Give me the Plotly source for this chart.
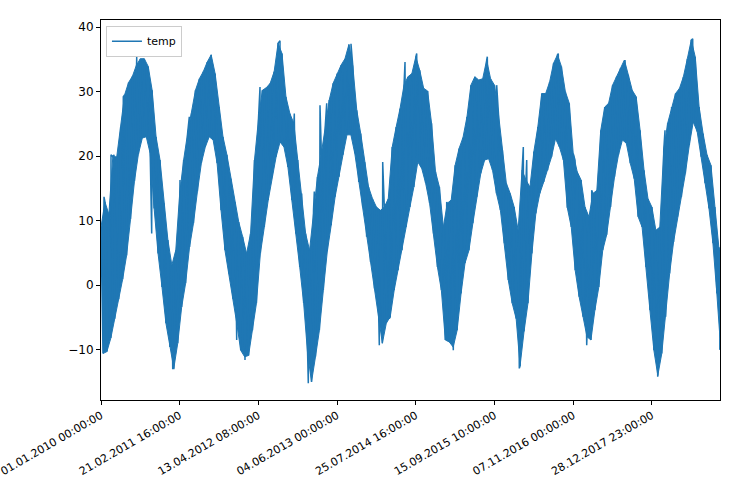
import plotly.graph_objects as go

# ---- data read from the reference: hourly index sampled every 500 h,
#      upper / lower edge of the temperature trace (deg C) ----
step_hours = 500
last_index = 78650
upper = [9.0, 12.9, 11.0, 19.9, 19.9, 24.5, 29.5, 31.4, 32.4, 34.1,
         35.1, 35.1, 33.9, 30.2, 23.0, 19.4, 12.7, 7.0, 3.1, 5.4,
         14.2, 19.4, 23.5, 26.6, 30.2, 32.0, 33.1, 34.6, 35.7, 32.8,
         27.6, 23.0, 20.2, 16.5, 12.9, 9.8, 7.5, 4.9, 8.0, 19.4,
         25.6, 30.2, 30.6, 31.3, 33.1, 37.5, 35.9, 29.2, 26.6, 25.1,
         19.4, 14.2, 8.0, 5.4, 11.6, 16.8, 20.4, 24.8, 28.7, 31.3,
         32.8, 34.1, 35.1, 37.3, 33.9, 27.1, 23.5, 19.1, 15.2, 13.4,
         12.1, 11.6, 12.1, 13.4, 21.4, 24.5, 27.4, 31.0, 32.3, 32.8,
         35.4, 33.3, 30.5, 30.1, 25.1, 17.6, 15.2, 9.0, 12.7, 13.2,
         18.6, 21.2, 22.9, 26.1, 31.0, 32.3, 31.8, 32.0, 34.9, 32.0,
         31.0, 26.6, 20.9, 15.8, 14.2, 12.1, 8.5, 17.8, 16.3, 15.2,
         20.7, 24.5, 29.7, 29.7, 31.5, 34.4, 35.7, 33.9, 30.0,
         28.2, 20.4, 17.6, 16.3, 12.1, 10.6, 14.2, 14.7, 24.0, 27.6,
         28.2, 31.0, 32.3, 33.6, 34.9, 32.6, 30.2, 29.2, 24.0, 17.8,
         13.4, 12.1, 8.5, 9.0, 20.9, 25.1, 27.6, 29.7, 30.5, 32.3,
         35.1, 38.0, 35.4, 27.6, 23.5, 20.2, 18.6, 12.1, 5.9, 5.4]
lower = [-10.6, -10.3, -8.2, -5.2, -2.2, 0.9, 4.6, 10.2, 16.1, 20.3,
         22.8, 23.0, 20.4, 11.9, 4.9, -0.3, -5.9, -9.6, -12.9, -9.0,
         -3.4, 0.3, 5.9, 9.6, 14.5, 18.9, 21.4, 23.0, 22.5, 18.9,
         11.6, 5.4, 1.8, -2.1, -5.9, -10.1, -11.1, -10.9, -7.0, -2.8,
         4.9, 9.0, 13.2, 16.8, 19.9, 22.2, 21.4, 18.3, 13.2, 8.0,
         2.8, -2.8, -10.6, -15.0, -11.1, -7.0, -0.8, 5.2, 9.3, 13.7,
         16.8, 20.2, 23.3, 23.3, 20.4, 16.0, 12.1, 7.5, 3.6, -0.5,
         -4.9, -9.0, -5.9, -4.9, -0.8, 2.3, 5.4, 9.0, 12.1, 15.2,
         19.1, 18.1, 15.8, 12.7, 8.0, 2.8, -0.8, -8.5, -8.8, -9.6,
         -7.0, -1.3, 3.4, 5.4, 9.6, 13.7, 17.3, 19.4, 19.6, 17.8,
         14.2, 11.6, 6.5, 0.8, -2.8, -5.2, -12.5, -7.2, -2.8, 4.9,
         11.1, 14.2, 16.0, 17.8, 19.9, 22.7, 21.4, 19.4, 12.0,
         9.0, 2.3, -1.8, -4.9, -8.0, -8.5, -3.9, -0.3, 5.4, 7.8,
         12.1, 16.8, 20.2, 22.5, 22.0, 18.9, 16.5, 10.6, 9.0, 2.8,
         -3.9, -10.1, -14.0, -10.6, -4.9, 1.8, 6.7, 10.6, 13.7, 17.3,
         21.7, 25.3, 23.8, 19.9, 15.8, 11.9, 6.5, -1.3, -8.3, -10.0]

# isolated spikes of the trace (hour index, deg C)
spike_index = [381, 1271, 1652, 2833, 4536, 10038, 11219, 20203, 22744, 24561,
               27102, 27826, 28678, 31765, 35793, 38627, 40113, 43925, 49084, 50278,
               53658, 54090, 58105, 60226, 62348, 66580, 71662, 75182,
               800, 6442, 9110, 17242, 18297, 26340, 35361, 36631, 44763, 53149,
               61713, 70735]
spike_value = [13.7, 20.2, 20.2, 29.2, 35.4, 16.3, 26.1, 30.7, 37.9, 26.6,
               14.5, 27.9, 28.2, 37.4, 19.1, 34.6, 35.9, 12.9, 35.4, 31.0,
               21.4, 19.4, 35.9, 19.4, 14.7, 34.9, 24.0, 38.2,
               -9.3, 8.0, -12.9, -8.5, -11.6, -15.2, -9.3, -5.2, -10.1, -12.9,
               -9.3, -14.2]

tick_positions = [0, 10000, 20000, 30000, 40000, 50000, 60000, 70000]
tick_labels = ["01.01.2010 00:00:00", "21.02.2011 16:00:00", "13.04.2012 08:00:00",
               "04.06.2013 00:00:00", "25.07.2014 16:00:00", "15.09.2015 10:00:00",
               "07.11.2016 00:00:00", "28.12.2017 23:00:00"]
y_ticks = [-10, 0, 10, 20, 30, 40]

# ---- build series (hourly index positions of the samples) ----
n = len(upper)
hi_x = [min(i * step_hours, last_index) for i in range(n - 1)] + [last_index]
lo_x = [min(i * step_hours + step_hours // 2, last_index) for i in range(n - 1)] + [last_index]

pts = []
for i in range(n):
    pts.append((hi_x[i], upper[i]))
    pts.append((lo_x[i], lower[i]))
pts += list(zip(spike_index, spike_value))
pts.sort(key=lambda p: p[0])
zx = [p[0] for p in pts]
zy = [p[1] for p in pts]

blue = "#1f77b4"
fig = go.Figure()
fig.add_trace(go.Scatter(x=hi_x + lo_x[::-1], y=upper + lower[::-1], fill="toself",
                         fillcolor=blue, line=dict(color=blue, width=1),
                         mode="lines", showlegend=False, hoverinfo="skip"))
fig.add_trace(go.Scatter(x=zx, y=zy, mode="lines", name="temp",
                         line=dict(color=blue, width=1.5)))

axis_common = dict(showline=True, mirror=True, linecolor="black", linewidth=1,
                   ticks="outside", ticklen=4, tickcolor="black", showgrid=False,
                   zeroline=False, automargin=False)

fig.update_layout(
    width=740, height=478,
    margin=dict(l=101, r=20, t=20, b=78),
    paper_bgcolor="white", plot_bgcolor="white",
    font=dict(family="DejaVu Sans", size=11, color="black"),
    xaxis=dict(range=[0, last_index], tickvals=tick_positions, ticktext=tick_labels,
               tickangle=-30, ticklabeloverflow="allow",
               tickfont=dict(family="DejaVu Sans", size=11, color="black"), **axis_common),
    yaxis=dict(range=[-17.8, 41.1], tickvals=y_ticks,
               tickfont=dict(family="DejaVu Sans", size=12, color="black"), **axis_common),
    legend=dict(x=0.008, y=0.985, xanchor="left", yanchor="top",
                bordercolor="#cccccc", borderwidth=1, bgcolor="rgba(255,255,255,0.8)",
                font=dict(family="DejaVu Sans", size=11), tracegroupgap=0),
    showlegend=True,
)

fig.write_html("out.html")
